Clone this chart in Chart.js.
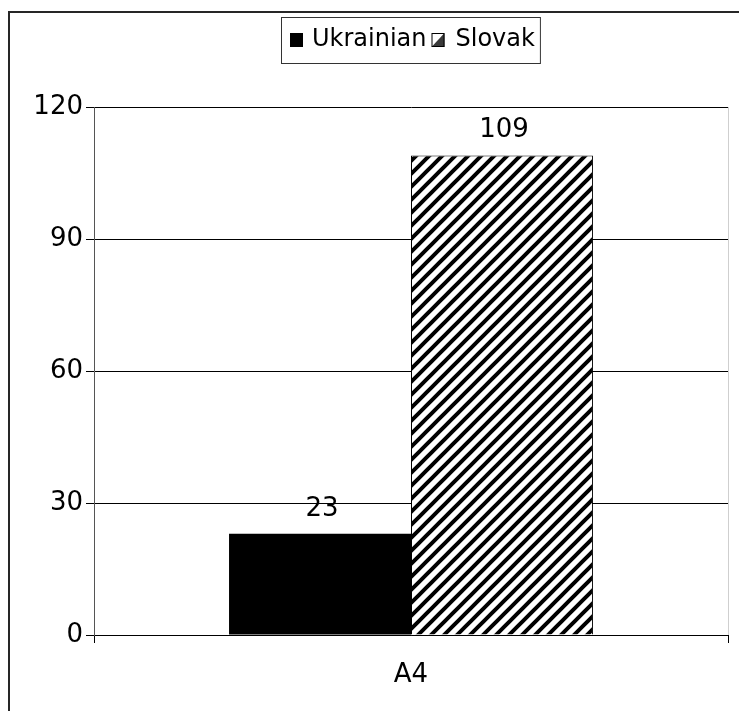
<!DOCTYPE html>
<html>
<head>
<meta charset="utf-8">
<script src="https://cdn.jsdelivr.net/npm/chart.js@4/dist/chart.umd.min.js"></script>
<style>
  html, body { margin: 0; padding: 0; background: #ffffff; }
  #wrap { width: 739px; height: 711px; position: relative; }
</style>
</head>
<body>
<div id="wrap"><canvas id="chart" width="739" height="711"></canvas></div>
<script>
// Chart data
const categories = ['A4'];
const seriesNames = ['Ukrainian', 'Slovak'];
const ukrainianValues = [23];
const slovakValues = [109];
const yTickValues = [0, 30, 60, 90, 120];

const FONT = 'DejaVu Sans';

// Diagonal "/" hatch used for the second series
function makeHatch() {
  const size = 13;
  const tile = document.createElement('canvas');
  tile.width = size; tile.height = size;
  const c = tile.getContext('2d');
  c.fillStyle = '#ffffff';
  c.fillRect(0, 0, size, size);
  c.strokeStyle = '#000000';
  c.lineWidth = 4;
  c.beginPath();
  c.moveTo(-size, size); c.lineTo(size, -size);
  c.moveTo(0, size * 2); c.lineTo(size * 2, 0);
  c.moveTo(0, size); c.lineTo(size, 0);
  c.stroke();
  return document.getElementById('chart').getContext('2d').createPattern(tile, 'repeat');
}
const hatch = makeHatch();

// White background plus the outer frame
const framePlugin = {
  id: 'frame',
  beforeDraw(chart) {
    const ctx = chart.ctx;
    ctx.save();
    ctx.fillStyle = '#ffffff';
    ctx.fillRect(0, 0, chart.width, chart.height);
    ctx.restore();
  },
  afterDraw(chart) {
    const ctx = chart.ctx;
    ctx.save();
    ctx.strokeStyle = '#262626';
    ctx.lineWidth = 2;
    ctx.beginPath();
    ctx.moveTo(9, chart.height);
    ctx.lineTo(9, 12);
    ctx.lineTo(chart.width, 12);
    ctx.stroke();
    ctx.restore();
  }
};

// Boxed legend at the top
const boxLegendPlugin = {
  id: 'boxLegend',
  afterDraw(chart) {
    const ctx = chart.ctx;
    const ds = chart.data.datasets;
    ctx.save();
    ctx.font = '24px "' + FONT + '"';
    ctx.textBaseline = 'middle';
    ctx.textAlign = 'left';
    const top = 17, h = 46, midY = 40;
    let x = 290;
    const left = 281;
    ds.forEach((d, i) => {
      const sq = 13;
      const sy = midY - 7;
      if (i === 0) {
        ctx.fillStyle = '#000000';
        ctx.fillRect(x, sy, sq, 14);
      } else {
        ctx.fillStyle = '#ffffff';
        ctx.fillRect(x, sy, sq, 14);
        ctx.fillStyle = '#3a3a3a';
        ctx.beginPath();
        ctx.moveTo(x, sy + 14);
        ctx.lineTo(x + sq, sy);
        ctx.lineTo(x + sq, sy + 14);
        ctx.closePath();
        ctx.fill();
        ctx.strokeStyle = '#000000';
        ctx.lineWidth = 1;
        ctx.strokeRect(x + 0.5, sy + 0.5, sq - 1, 13);
      }
      x += sq + (i === 0 ? 9 : 11);
      ctx.fillStyle = '#000000';
      ctx.fillText(d.label, x, midY);
      x += ctx.measureText(d.label).width + 5;
    });
    ctx.strokeStyle = '#333333';
    ctx.lineWidth = 1;
    ctx.strokeRect(left + 0.5, top + 0.5, x - left, h);
    ctx.restore();
  }
};

// Value labels above each bar
const valueLabelPlugin = {
  id: 'valueLabels',
  afterDatasetsDraw(chart) {
    const ctx = chart.ctx;
    ctx.save();
    ctx.font = '26px "' + FONT + '"';
    ctx.fillStyle = '#000000';
    ctx.textAlign = 'center';
    ctx.textBaseline = 'alphabetic';
    chart.data.datasets.forEach((d, di) => {
      chart.getDatasetMeta(di).data.forEach((bar, i) => {
        ctx.fillText(String(d.data[i]), bar.x + 2, bar.y - 18);
      });
    });
    ctx.restore();
  }
};

Chart.defaults.font.family = FONT;
Chart.defaults.font.size = 26;
Chart.defaults.color = '#000000';

new Chart(document.getElementById('chart'), {
  type: 'bar',
  data: {
    labels: categories,
    datasets: [
      {
        label: seriesNames[0],
        data: ukrainianValues,
        backgroundColor: '#000000',
        borderColor: '#000000',
        borderWidth: 0
      },
      {
        label: seriesNames[1],
        data: slovakValues,
        backgroundColor: hatch,
        borderColor: '#000000',
        borderWidth: 1
      }
    ]
  },
  options: {
    responsive: false,
    animation: false,
    devicePixelRatio: 1,
    layout: { padding: { top: 107, left: 0, right: 11, bottom: 0 } },
    datasets: { bar: { categoryPercentage: 0.574, barPercentage: 1.0 } },
    plugins: {
      legend: { display: false },
      tooltip: { enabled: false },
      title: { display: false }
    },
    scales: {
      x: {
        offset: true,
        grid: {
          offset: true,
          drawOnChartArea: true,
          color: '#cfcfcf',
          tickColor: '#000000',
          tickLength: 8,
          lineWidth: 1
        },
        border: { color: '#000000', width: 1 },
        ticks: { padding: 17, font: { size: 26 } },
        afterFit(scale) { scale.height = 76; }
      },
      y: {
        min: 0,
        max: 120,
        afterBuildTicks(scale) {
          scale.ticks = yTickValues.map(v => ({ value: v }));
        },
        grid: {
          color: '#000000',
          tickColor: '#000000',
          tickLength: 8,
          lineWidth: 1
        },
        border: { color: '#555555', width: 1 },
        ticks: { padding: 3, font: { size: 26 } },
        afterFit(scale) { scale.width = 94; }
      }
    }
  },
  plugins: [framePlugin, valueLabelPlugin, boxLegendPlugin]
});
</script>
</body>
</html>
